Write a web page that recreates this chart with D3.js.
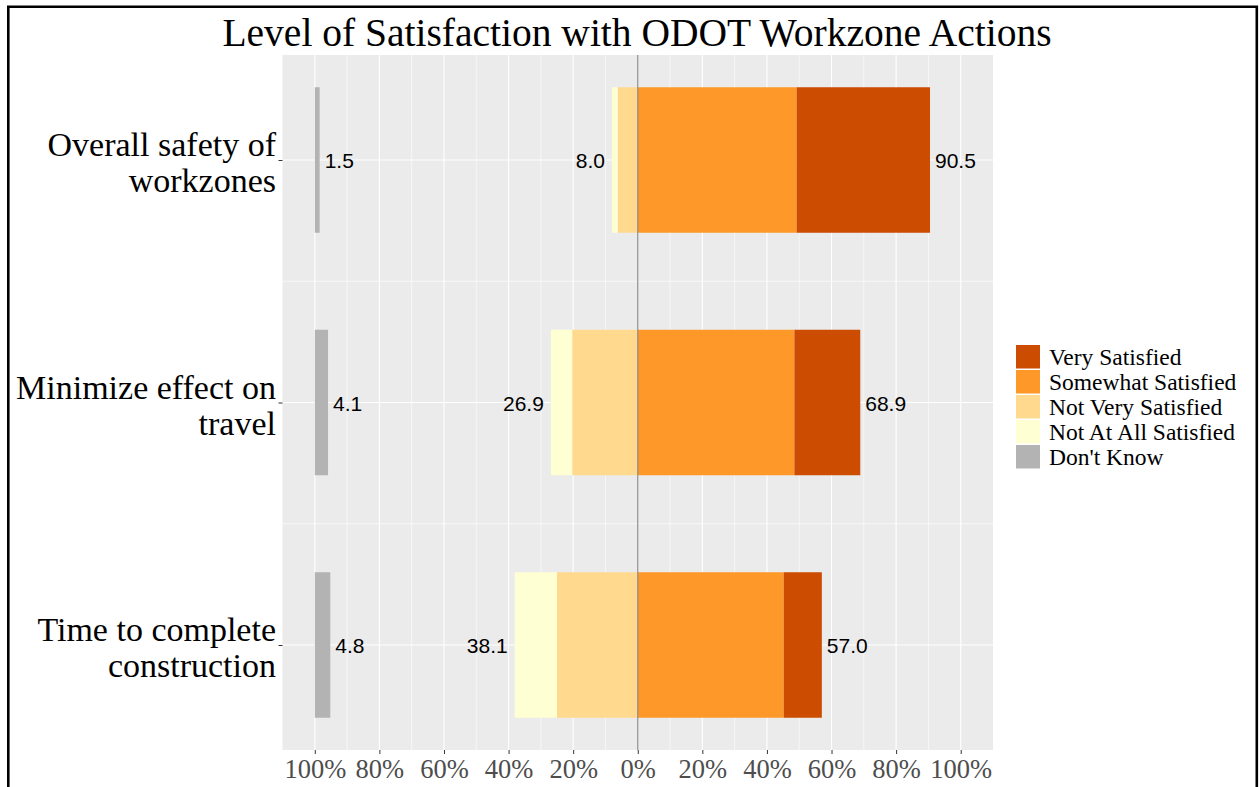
<!DOCTYPE html>
<html>
<head>
<meta charset="utf-8">
<script src="https://cdn.jsdelivr.net/npm/d3@7"></script>
<style>
  body { margin: 0; background: #fff; }
  svg { display: block; }
</style>
</head>
<body>
<div id="chart"></div>
<script>
// survey items (label lines) and response shares, in percent
const items = ["Overall safety of workzones", "Minimize effect on travel", "Time to complete construction"];
const itemLines = [["Overall safety of", "workzones"], ["Minimize effect on", "travel"], ["Time to complete", "construction"]];
const verySatisfied = [41.3, 20.4, 11.8];
const somewhatSatisfied = [49.2, 48.5, 45.2];
const notVerySatisfied = [6.2, 20.3, 25.0];
const notAtAllSatisfied = [1.8, 6.6, 13.1];
const dontKnow = [1.5, 4.1, 4.8];

const tickValues = [-100, -80, -60, -40, -20, 0, 20, 40, 60, 80, 100];
const tickLabels = ["100%", "80%", "60%", "40%", "20%", "0%", "20%", "40%", "60%", "80%", "100%"];

const legendData = [
  {key: "very", label: "Very Satisfied", color: "#cc4c02"},
  {key: "somewhat", label: "Somewhat Satisfied", color: "#fe9929"},
  {key: "notVery", label: "Not Very Satisfied", color: "#fed98e"},
  {key: "notAtAll", label: "Not At All Satisfied", color: "#ffffd4"},
  {key: "dk", label: "Don't Know", color: "#b3b3b3"}
];
const color = d3.scaleOrdinal().domain(legendData.map(d => d.key)).range(legendData.map(d => d.color));

const width = 1259, height = 787;
const panel = {left: 282.5, right: 993, top: 55, bottom: 750};
const serif = "'Liberation Serif', 'Times New Roman', serif";
const sans = "'Liberation Sans', Arial, sans-serif";

// table for the stack: negatives go left of zero
const rows = items.map((item, i) => ({
  item,
  somewhat: somewhatSatisfied[i],
  very: verySatisfied[i],
  notVery: -notVerySatisfied[i],
  notAtAll: -notAtAllSatisfied[i]
}));
const series = d3.stack()
  .keys(["somewhat", "very", "notVery", "notAtAll"])
  .offset(d3.stackOffsetDiverging)(rows);

const x = d3.scaleLinear().domain([-110, 110]).range([panel.left, panel.right]);
const y = d3.scalePoint().domain(items).range([160, 645]);
const barH = y.step() * 0.6;

const svg = d3.select("#chart").append("svg").attr("width", width).attr("height", height);

// panel background and grid
svg.append("rect")
  .attr("x", panel.left).attr("y", panel.top)
  .attr("width", panel.right - panel.left).attr("height", panel.bottom - panel.top)
  .attr("fill", "#ebebeb");

const minorX = d3.range(-110, 111, 10).filter(v => v % 20 !== 0 && v > -110 && v < 110);
svg.append("g").selectAll("line").data(minorX).join("line")
  .attr("x1", d => x(d)).attr("x2", d => x(d))
  .attr("y1", panel.top).attr("y2", panel.bottom)
  .attr("stroke", "#fff").attr("stroke-width", 0.6);
const minorY = [(y(items[0]) + y(items[1])) / 2, (y(items[1]) + y(items[2])) / 2];
svg.append("g").selectAll("line").data(minorY).join("line")
  .attr("x1", panel.left).attr("x2", panel.right)
  .attr("y1", d => d).attr("y2", d => d)
  .attr("stroke", "#fff").attr("stroke-width", 0.6);
svg.append("g").selectAll("line").data(tickValues).join("line")
  .attr("x1", d => x(d)).attr("x2", d => x(d))
  .attr("y1", panel.top).attr("y2", panel.bottom)
  .attr("stroke", "#fff").attr("stroke-width", 1.1);
svg.append("g").selectAll("line").data(items).join("line")
  .attr("x1", panel.left).attr("x2", panel.right)
  .attr("y1", d => y(d)).attr("y2", d => y(d))
  .attr("stroke", "#fff").attr("stroke-width", 1.1);

// stacked bars
svg.append("g").selectAll("g").data(series).join("g")
  .attr("fill", d => color(d.key))
  .selectAll("rect").data(d => d).join("rect")
  .attr("x", d => x(Math.min(d[0], d[1])))
  .attr("width", d => Math.abs(x(d[1]) - x(d[0])))
  .attr("y", d => y(d.data.item) - barH / 2)
  .attr("height", barH);

// don't know bars sit at the left end
svg.append("g").selectAll("rect").data(items).join("rect")
  .attr("x", x(-100))
  .attr("width", (d, i) => x(-100 + dontKnow[i]) - x(-100))
  .attr("y", d => y(d) - barH / 2)
  .attr("height", barH)
  .attr("fill", color("dk"));

// zero line
svg.append("line")
  .attr("x1", x(0)).attr("x2", x(0))
  .attr("y1", panel.top).attr("y2", panel.bottom)
  .attr("stroke", "#8c8c8c").attr("stroke-width", 1.2);

// value labels
const labels = svg.append("g").attr("font-family", sans).attr("font-size", 21).attr("fill", "#000");
labels.selectAll("text.pos").data(items).join("text")
  .attr("class", "pos")
  .attr("x", (d, i) => x(verySatisfied[i] + somewhatSatisfied[i]) + 5)
  .attr("y", d => y(d) + 8)
  .text((d, i) => (verySatisfied[i] + somewhatSatisfied[i]).toFixed(1));
labels.selectAll("text.neg").data(items).join("text")
  .attr("class", "neg")
  .attr("text-anchor", "end")
  .attr("x", (d, i) => x(-(notVerySatisfied[i] + notAtAllSatisfied[i])) - 7)
  .attr("y", d => y(d) + 8)
  .text((d, i) => (notVerySatisfied[i] + notAtAllSatisfied[i]).toFixed(1));
labels.selectAll("text.dk").data(items).join("text")
  .attr("class", "dk")
  .attr("x", (d, i) => x(-100 + dontKnow[i]) + 5)
  .attr("y", d => y(d) + 8)
  .text((d, i) => dontKnow[i].toFixed(1));

// x axis
const xAxis = svg.append("g")
  .attr("transform", `translate(0,${panel.bottom})`)
  .call(d3.axisBottom(x).tickValues(tickValues).tickFormat((d, i) => tickLabels[i]).tickSize(4).tickPadding(5));
xAxis.select(".domain").remove();
xAxis.selectAll(".tick line").attr("stroke", "#333");
xAxis.selectAll(".tick text")
  .attr("font-family", serif).attr("font-size", 26.5).attr("fill", "#4d4d4d");

// y axis
const yAxis = svg.append("g")
  .attr("transform", `translate(${panel.left},0)`)
  .call(d3.axisLeft(y).tickSize(4).tickFormat(""));
yAxis.select(".domain").remove();
yAxis.selectAll(".tick line").attr("stroke", "#333");
const yLab = svg.append("g").attr("font-family", serif).attr("font-size", 34).attr("fill", "#000").attr("text-anchor", "end");
yLab.selectAll("text").data(items).join("text")
  .attr("x", 276)
  .attr("y", d => y(d) - 4)
  .selectAll("tspan").data((d, i) => itemLines[i]).join("tspan")
  .attr("x", 276)
  .attr("dy", (d, j) => j === 0 ? 0 : 36)
  .text(d => d);

// title
svg.append("text")
  .attr("x", 637).attr("y", 46)
  .attr("text-anchor", "middle")
  .attr("font-family", serif).attr("font-size", 39.5)
  .text("Level of Satisfaction with ODOT Workzone Actions");

// legend
const legend = svg.append("g").attr("transform", "translate(1016,345)");
const li = legend.selectAll("g").data(legendData).join("g")
  .attr("transform", (d, i) => `translate(0,${i * 25})`);
li.append("rect").attr("width", 24).attr("height", 23.5).attr("fill", d => d.color);
li.append("text")
  .attr("x", 33).attr("y", 20)
  .attr("font-family", serif).attr("font-size", 23.5)
  .text(d => d.label);

// outer frame
svg.append("path")
  .attr("d", `M8.3,${height} V6.7 H1256.8 V${height}`)
  .attr("fill", "none").attr("stroke", "#000").attr("stroke-width", 2.6);
</script>
</body>
</html>
